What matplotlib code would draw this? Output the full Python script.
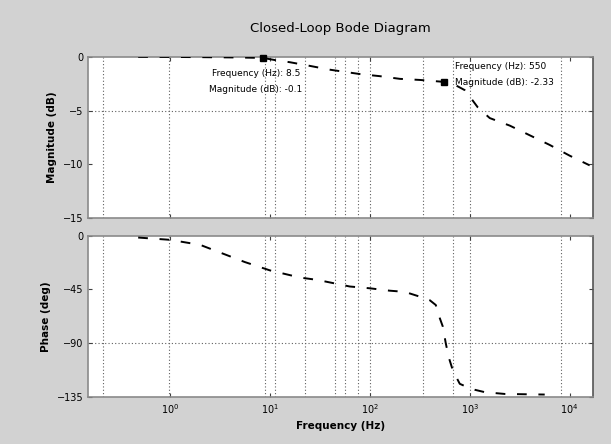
import matplotlib.pyplot as plt

# ===============================
# DATA
# ===============================
mag_freq = [0.48, 1, 2, 4.7, 8.5, 11.2, 15.8, 25, 40, 79, 126, 200, 316, 550,
            708, 891, 1000, 1202, 1585, 2512, 3981, 6310, 10000, 15849]
mag_db = [0, -0.01, -0.03, -0.06, -0.1, -0.3, -0.5, -0.84, -1.2, -1.6, -1.8,
          -2.05, -2.15, -2.33, -2.6, -3.1, -3.7, -4.7, -5.7, -6.4, -7.3, -8.2,
          -9.2, -10.1]

phase_freq = [0.48, 1, 2, 5.6, 10, 20, 30, 45, 63, 100, 158, 224, 316, 398,
              457, 501, 537, 575, 617, 661, 708, 794, 955, 1122, 1413, 2239, 5623]
phase_deg = [-1.5, -3.4, -7.6, -22, -29, -35, -37, -40, -42.5, -44, -46, -47,
             -51, -54, -58, -69, -76, -90, -102, -110, -116, -124, -127, -129,
             -131, -132.5, -133]

tip_freq = [8.5, 550]
tip_mag = [-0.1, -2.33]
tip_labels = ["Frequency (Hz): 8.5\nMagnitude (dB): -0.1",
              "Frequency (Hz): 550\nMagnitude (dB): -2.33"]

xticks = [1, 10, 100, 1000, 10000]
xtick_labels = ["$10^{0}$", "$10^{1}$", "$10^{2}$", "$10^{3}$", "$10^{4}$"]
mag_ticks = [0, -5, -10, -15]
phase_ticks = [0, -45, -90, -135]

# grid lines that survive in the reference
vgrid = [0.214, 0.977, 8.9, 11.2, 22.4, 44.7, 56.2, 75.9, 100, 339, 676, 1000, 8128]

# ===============================
# PLOT
# ===============================
BG = "#d2d2d2"
fig = plt.figure(figsize=(6.11, 4.44), dpi=100, facecolor=BG)
ax1 = fig.add_axes([0.144, 0.509, 0.826, 0.363])
ax2 = fig.add_axes([0.144, 0.106, 0.826, 0.363])

for ax in (ax1, ax2):
    ax.set_xscale("log")
    ax.set_xlim(0.151, 16982)
    ax.set_xticks(xticks)
    ax.minorticks_off()
    for v in vgrid:
        ax.axvline(v, color="#606060", lw=0.8, ls=(0, (1, 2)), zorder=1)
    ax.tick_params(direction="in", length=3, labelsize=7, color="#404040",
                   top=True, right=True)
    for s in ax.spines.values():
        s.set_color("#8a8a8a")
        s.set_linewidth(1.2)
    ax.spines["right"].set_color("#555555")

ax1.plot(mag_freq, mag_db, color="black", lw=1.4, ls=(0, (5, 6)), zorder=3)
ax1.set_ylim(-15, 0)
ax1.set_yticks(mag_ticks)
ax1.set_xticklabels([])
ax1.axhline(-5, color="#606060", lw=0.8, ls=(0, (1, 2)), zorder=1)
ax1.set_ylabel("Magnitude (dB)", fontsize=7.5, fontweight="bold")
ax1.set_title("Closed-Loop Bode Diagram", fontsize=9.5, pad=18)

ax1.plot(tip_freq, tip_mag, "s", color="black", ms=5, zorder=4, clip_on=False)
ax1.text(tip_freq[0] * 0.85, tip_mag[0] - 1.0, tip_labels[0], fontsize=6.5,
         ha="center", va="top", linespacing=2.0)
ax1.text(tip_freq[1] * 1.3, tip_mag[1] - 0.5, tip_labels[1], fontsize=6.5,
         ha="left", va="bottom", linespacing=2.0)

ax2.plot(phase_freq, phase_deg, color="black", lw=1.4, ls=(0, (5, 6)), zorder=3)
ax2.set_ylim(-135, 0)
ax2.set_yticks(phase_ticks)
ax2.set_xticklabels(xtick_labels)
ax2.axhline(-90, color="#606060", lw=0.8, ls=(0, (1, 2)), zorder=1)
ax2.set_ylabel("Phase (deg)", fontsize=7.5, fontweight="bold")
ax2.set_xlabel("Frequency (Hz)", fontsize=7.5, fontweight="bold")

fig.savefig("out.png", dpi=100, facecolor=BG)
